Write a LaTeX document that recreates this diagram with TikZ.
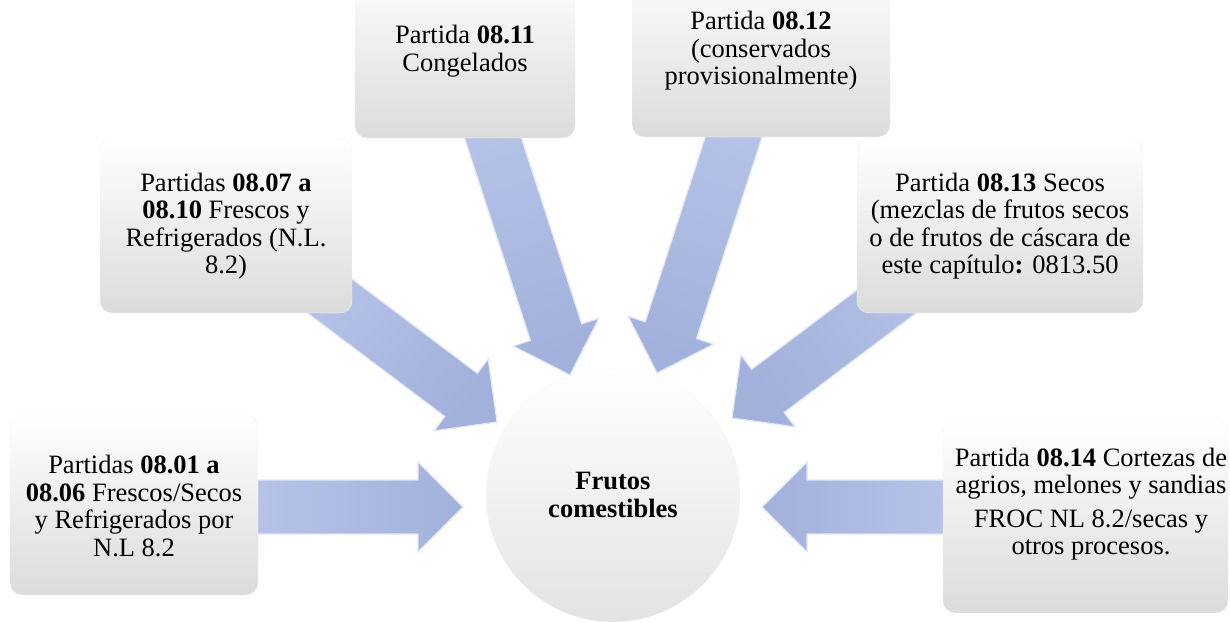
\documentclass[tikz,border=0pt]{standalone}
\usepackage{fontspec}
\setmainfont{Liberation Serif}
\definecolor{arrowblue}{RGB}{162,177,219}
\definecolor{arrowlight}{RGB}{184,196,233}
\definecolor{arrowedge}{RGB}{226,231,247}
\tikzset{
  box/.style={rounded corners=12pt, top color=white, middle color=white, bottom color=black!14, draw=black!4},
  lbl/.style={font=\fontsize{26.5}{27.5}\selectfont, align=center, inner sep=0pt},
  hub/.style={circle, minimum size=254, top color=white, middle color=white, bottom color=black!11, draw=black!3, align=center, font=\fontsize{26.5}{28}\selectfont\bfseries},
  bigarrow/.style={shading=axis, top color=arrowlight, bottom color=arrowblue, draw=arrowedge, line width=1.2pt}
}
% block arrow: tip, direction, length
\newcommand{\blockarrow}[3]{%
  \path[bigarrow, shading angle={#2+90}, shift={(#1)}, rotate=#2]
    (0,0) -- (-45,45) -- (-45,27) -- (-#3,27) -- (-#3,-27) -- (-45,-27) -- (-45,-45) -- cycle;
}
\begin{document}
\begin{tikzpicture}[x=1pt, y=1pt]
    \useasboundingbox (0,0) rectangle (1230,-623);
    \clip (0,0) rectangle (1230,-623);

    % Centre
    \node[hub] (hub) at (613,-495) {Frutos\\comestibles};

    % Arrow tips
    \coordinate (tipA) at (463,-507);
    \coordinate (tipB) at (497,-422);
    \coordinate (tipC) at (570,-375);
    \coordinate (tipD) at (657,-373);
    \coordinate (tipE) at (732,-418);
    \coordinate (tipF) at (762,-507);

    % Arrows towards the centre
    \blockarrow{tipA}{0}{223}
    \blockarrow{tipB}{-37}{260}
    \blockarrow{tipC}{-72}{300}
    \blockarrow{tipD}{-108}{300}
    \blockarrow{tipE}{-143}{300}
    \blockarrow{tipF}{180}{198}

    % Boxes
    \node[box, minimum width=248, minimum height=180] (boxA) at (134,-505) {};
    \node[box, minimum width=252, minimum height=174] (boxB) at (226,-226) {};
    \node[box, minimum width=220, minimum height=174] (boxC) at (465,-51) {};
    \node[box, minimum width=258, minimum height=174] (boxD) at (761,-50) {};
    \node[box, minimum width=286, minimum height=174] (boxE) at (1000,-226) {};
    \node[box, minimum width=285, minimum height=193] (boxF) at (1085.5,-516.5) {};

    % Texts
    \node[lbl] (txtA) at (134,-506) {Partidas \textbf{08.01 a}\\\textbf{08.06} Frescos/Secos\\y Refrigerados por\\N.L 8.2};
    \node[lbl] (txtB) at (226,-226) {Partidas \textbf{08.07 a}\\\textbf{08.10} Frescos y\\Refrigerados (N.L.\\8.2)};
    \node[lbl] (txtC) at (465,-51) {Partida \textbf{08.11}\\Congelados};
    \node[lbl] (txtD) at (761,-51) {Partida \textbf{08.12}\\(conservados\\provisionalmente)};
    \node[lbl] (txtE) at (1000,-226) {Partida \textbf{08.13} Secos\\(mezclas de frutos secos\\o de frutos de cáscara de\\este capítulo\textbf{:} 0813.50};
    \node[lbl] (txtF) at (1091,-504) {Partida \textbf{08.14} Cortezas de\\agrios, melones y sandias\\[6pt]FROC NL 8.2/secas y\\otros procesos.};
\end{tikzpicture}
\end{document}
